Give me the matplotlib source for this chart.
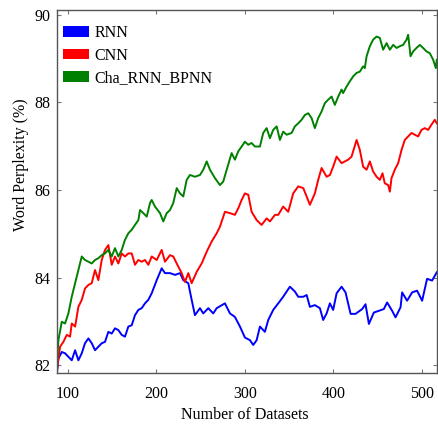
import matplotlib
matplotlib.use("Agg")
from matplotlib import pyplot as plt
from matplotlib.patches import Patch

# values
rnn_x = [87.6, 89.1, 92.9, 96.6, 100.4, 104.2, 108.0, 111.7, 115.5, 119.2, 123.0, 126.8, 130.5, 134.3,
         138.1, 141.8, 145.6, 149.4, 153.1, 156.9, 160.7, 164.4, 168.2, 172.0, 175.7, 179.5, 183.3,
         187.0, 190.8, 194.6, 200.3, 205.9, 209.6, 215.3, 221.0, 226.6, 230.3, 236.0, 239.8, 243.5,
         249.2, 252.9, 258.6, 264.2, 268.1, 277.4, 283.1, 288.7, 294.4, 300.0, 305.7, 309.4, 313.3,
         317.0, 322.6, 326.4, 332.0, 337.7, 343.3, 347.2, 350.9, 356.5, 360.3, 366.0, 369.8, 373.5,
         379.1, 384.8, 388.5, 392.4, 396.1, 399.8, 403.7, 409.3, 413.8, 419.5, 425.1, 432.6, 436.4,
         440.2, 445.8, 451.5, 457.1, 460.8, 466.5, 470.3, 476.0, 477.8, 483.4, 489.1, 494.7, 500.4,
         506.0, 511.7, 517.0]
rnn_y = [81.85, 82.15, 82.30, 82.27, 82.19, 82.11, 82.34, 82.11, 82.27, 82.50, 82.61, 82.50, 82.34, 82.42,
         82.50, 82.53, 82.76, 82.72, 82.84, 82.80, 82.69, 82.65, 82.88, 82.91, 83.14, 83.26, 83.30,
         83.41, 83.49, 83.64, 83.94, 84.21, 84.10, 84.10, 84.06, 84.10, 83.94, 83.87, 83.49, 83.14,
         83.30, 83.18, 83.30, 83.18, 83.30, 83.41, 83.18, 83.10, 82.88, 82.63, 82.57, 82.46, 82.57,
         82.88, 82.76, 83.03, 83.26, 83.41, 83.56, 83.68, 83.79, 83.68, 83.56, 83.56, 83.60, 83.33,
         83.37, 83.30, 83.03, 83.18, 83.41, 83.26, 83.64, 83.79, 83.66, 83.17, 83.17, 83.28, 83.39,
         82.94, 83.20, 83.24, 83.28, 83.43, 83.24, 83.09, 83.32, 83.66, 83.47, 83.66, 83.70, 83.47,
         83.97, 83.93, 84.12]

cnn_x = [87.6, 91.0, 94.7, 98.6, 102.3, 104.2, 108.0, 111.7, 115.5, 119.2, 123.0, 126.8, 130.5, 134.3,
         138.1, 141.8, 145.6, 149.4, 153.1, 156.9, 160.7, 164.4, 168.2, 172.0, 175.7, 179.5, 183.3,
         187.0, 190.8, 194.6, 200.3, 205.9, 209.6, 215.3, 219.0, 222.9, 228.5, 232.2, 236.0, 239.8,
         245.5, 251.1, 256.8, 262.4, 268.1, 271.8, 277.4, 283.1, 288.7, 292.5, 296.3, 300.0, 303.8,
         307.6, 313.3, 318.9, 324.6, 328.3, 334.0, 337.7, 343.3, 349.0, 354.6, 360.3, 366.0, 369.8,
         373.5, 379.1, 382.9, 386.7, 392.4, 396.1, 399.8, 403.7, 409.3, 416.8, 420.6, 426.3, 430.0,
         433.7, 437.6, 441.3, 445.0, 448.9, 452.6, 455.6, 458.2, 462.0, 463.9, 465.8, 469.5, 473.3,
         477.1, 480.8, 484.6, 488.4, 492.1, 495.9, 499.7, 503.4, 507.2, 511.0, 514.7, 517.0]
cnn_y = [81.92, 82.42, 82.53, 82.69, 82.65, 82.95, 82.88, 83.33, 83.49, 83.75, 83.83, 83.87, 84.17, 83.94,
         84.40, 84.63, 84.74, 84.29, 84.48, 84.32, 84.55, 84.48, 84.55, 84.55, 84.29, 84.40, 84.36,
         84.40, 84.29, 84.48, 84.40, 84.63, 84.36, 84.51, 84.48, 84.32, 84.10, 83.90, 84.10, 83.87,
         84.13, 84.32, 84.59, 84.82, 85.01, 85.16, 85.50, 85.47, 85.43, 85.58, 85.77, 85.92, 85.89,
         85.50, 85.31, 85.20, 85.35, 85.28, 85.43, 85.43, 85.62, 85.50, 85.92, 86.08, 86.04, 85.85,
         85.66, 85.92, 86.23, 86.50, 86.30, 86.34, 86.53, 86.76, 86.61, 86.69, 86.76, 87.14, 86.91,
         86.53, 86.46, 86.65, 86.42, 86.30, 86.23, 86.38, 86.15, 86.11, 85.96, 86.27, 86.46, 86.61,
         86.91, 87.14, 87.22, 87.30, 87.26, 87.22, 87.37, 87.41, 87.37, 87.49, 87.60, 87.52]

cha_x = [87.6, 89.1, 92.9, 96.6, 100.4, 104.2, 108.0, 111.7, 115.5, 119.2, 123.0, 126.8, 130.5, 134.3,
         138.1, 141.8, 145.6, 149.4, 153.1, 156.9, 160.7, 164.4, 168.2, 172.0, 175.7, 179.5, 181.4,
         185.1, 189.0, 192.7, 194.6, 198.3, 204.0, 207.7, 211.6, 215.3, 219.0, 222.9, 226.6, 230.3,
         234.2, 237.9, 243.5, 249.2, 252.9, 256.8, 260.5, 266.1, 271.8, 275.5, 279.4, 285.0, 288.7,
         292.5, 296.3, 300.0, 303.8, 307.6, 311.3, 317.0, 320.7, 324.6, 328.3, 332.0, 335.9, 339.6,
         343.3, 347.2, 352.8, 356.5, 360.3, 364.1, 367.8, 371.6, 375.4, 379.1, 382.9, 386.7, 390.4,
         394.2, 398.0, 401.7, 405.5, 409.3, 411.1, 415.0, 418.7, 422.4, 426.3, 430.0, 433.7, 435.6,
         437.6, 441.3, 445.0, 448.9, 452.6, 456.3, 460.2, 463.9, 467.7, 471.5, 475.2, 478.9, 482.8,
         484.6, 487.3, 490.2, 494.0, 497.8, 501.5, 505.4, 509.1, 512.9, 515.9, 517.0]
cha_y = [82.04, 82.57, 82.99, 82.95, 83.18, 83.56, 83.87, 84.17, 84.48, 84.40, 84.36, 84.32, 84.40, 84.44,
         84.51, 84.55, 84.63, 84.48, 84.67, 84.48, 84.63, 84.86, 85.01, 85.09, 85.20, 85.31, 85.54,
         85.47, 85.39, 85.70, 85.77, 85.62, 85.47, 85.28, 85.47, 85.54, 85.70, 86.04, 85.92, 85.85,
         86.23, 86.34, 86.30, 86.34, 86.46, 86.65, 86.46, 86.27, 86.11, 86.19, 86.46, 86.84, 86.69,
         86.88, 86.99, 87.10, 87.03, 87.07, 86.99, 86.99, 87.30, 87.41, 87.18, 87.37, 87.45, 87.14,
         87.33, 87.26, 87.30, 87.45, 87.52, 87.60, 87.71, 87.75, 87.64, 87.41, 87.64, 87.79, 87.98,
         88.06, 88.13, 87.94, 88.13, 88.29, 88.21, 88.36, 88.48, 88.59, 88.67, 88.70, 88.82, 88.78,
         89.05, 89.28, 89.43, 89.50, 89.47, 89.20, 89.35, 89.20, 89.31, 89.24, 89.28, 89.31, 89.43,
         89.54, 89.05, 89.16, 89.24, 89.31, 89.24, 89.16, 89.12, 88.97, 88.78, 88.97]

x_ticks = [100, 200, 300, 400, 500]
y_ticks = [82, 84, 86, 88, 90]
labels = ['RNN', 'CNN', 'Cha_RNN_BPNN']
colors = ['#0000ff', '#ff0000', '#008000']

plt.rcParams['font.family'] = 'Liberation Serif'
plt.rcParams['font.size'] = 11.5

fig = plt.figure(figsize=(4.39, 4.28), dpi=100)
ax = fig.add_axes([0.130, 0.1285, 0.865, 0.8485])

ax.plot(rnn_x, rnn_y, color=colors[0], linewidth=1.4)
ax.plot(cnn_x, cnn_y, color=colors[1], linewidth=1.4)
ax.plot(cha_x, cha_y, color=colors[2], linewidth=1.4)

ax.set_xlim(87.6, 517)
ax.set_ylim(81.82, 90.11)
ax.set_xticks(x_ticks)
ax.set_yticks(y_ticks)
ax.tick_params(direction='in', length=3, width=0.8, color='#777777',
               top=True, right=True, labelsize=11.5)
ax.tick_params(axis='x', pad=9)
ax.tick_params(axis='y', pad=5)

for s in ax.spines.values():
    s.set_color('#555555')
    s.set_linewidth(1.0)

ax.set_xlabel('Number of Datasets', fontsize=11.5)
ax.set_ylabel('Word Perplexity (%)', fontsize=11.5)
ax.xaxis.set_label_coords(0.495, -0.094)
ax.yaxis.set_label_coords(-0.075, 0.573)

handles = [Patch(facecolor=c, edgecolor='none') for c in colors]
ax.legend(handles, labels, loc='upper left', bbox_to_anchor=(0.0, 0.975), frameon=False,
          fontsize=11.5, handlelength=1.6, handleheight=0.65, handletextpad=0.35,
          labelspacing=0.4, borderaxespad=0.2, borderpad=0.2)

fig.savefig('out.png', dpi=100)
